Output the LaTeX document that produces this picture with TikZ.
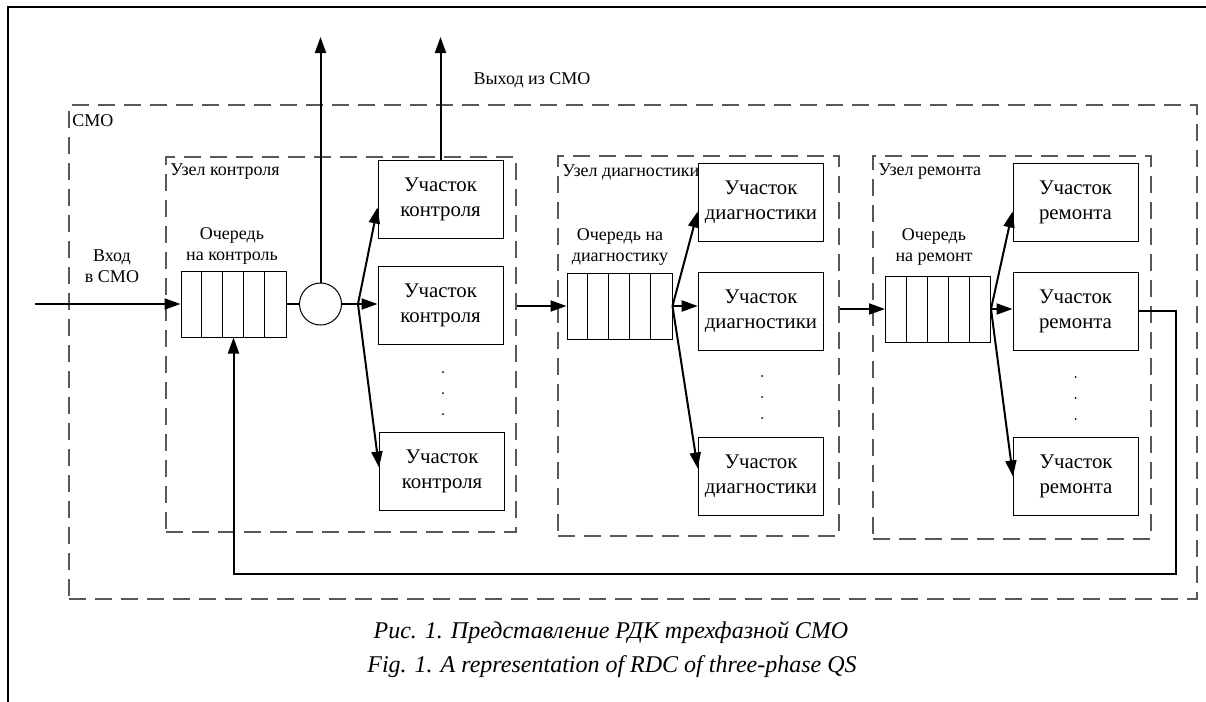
\documentclass[tikz,border=0pt]{standalone}
\usepackage{fontspec}
\setmainfont{Liberation Serif}
\usepackage{tikz}
\usetikzlibrary{arrows.meta}
\usetikzlibrary{positioning}
\usetikzlibrary{calc,fit}
\tikzstyle{flow} = [draw, line width=1pt, -{Triangle[length=8pt,width=5.5pt]}]
\tikzstyle{uch} = [draw, line width=0.5pt, minimum width=62.5pt,
minimum height=39pt, align=center, font=\fontsize{10.4}{12.5}\selectfont]

\begin{document}
\begin{tikzpicture}[x=0.5pt, y=-0.5pt,
knot/.style={draw=black!65, dash pattern=on 8.5pt off 4.5pt, line width=0.6pt, inner sep=0pt},
queue/.style={draw, line width=0.5pt, minimum width=52.5pt, minimum height=33pt, inner sep=0pt},
lbl/.style={inner sep=0pt, align=center, font=\fontsize{9}{10.5}\selectfont}]
\useasboundingbox (0,0) rectangle (1206,702);
%% Frame
\draw [line width=1pt] (1206,7) -- (8,7) -- (8,702);
%% Nodes of the system
\node [knot, fit={(69,105) (1197,599)}] (smo) {};
\node [knot, fit={(166,157) (516,532)}] (uk) {};
\node [knot, fit={(558,156) (839,536)}] (ud) {};
\node [knot, fit={(873,156) (1151,539)}] (ur) {};
\node [lbl, anchor=west] (smot) at (72,121) {СМО};
\node [lbl, anchor=west] (ukt) at (170,172) {Узел контроля};
\node [lbl, anchor=west] (udt) at (562,172) {Узел диагностики};
\node [lbl, anchor=west] (urt) at (878,172) {Узел ремонта};
%% Queues
\node [queue] (qk) at (233.5,304) {};
\node [queue] (qd) at (619.5,306) {};
\node [queue] (qr) at (938,309) {};
\foreach \q in {qk,qd,qr}
  \foreach \i in {1,...,4}
    \draw [line width=0.5pt] ([xshift=\i*10.5pt]\q.north west) -- ([xshift=\i*10.5pt]\q.south west);
\node [lbl] (qkt) at (232,246) {Очередь\\на контроль};
\node [lbl] (qdt) at (620,247) {Очередь на\\диагностику};
\node [lbl] (qrt) at (934,247) {Очередь\\на ремонт};
\node [draw, circle, line width=0.5pt, minimum size=21pt, inner sep=0pt] (srv) at (320.5,304) {};
%% Sections
\node [uch] (k1) at (440.5,199.5) {Участок\\контроля};
\node [uch] (k2) at (440.5,305.5) {Участок\\контроля};
\node [uch] (k3) at (442,471.5) {Участок\\контроля};
\node [uch] (d1) at (761,202.5) {Участок\\диагностики};
\node [uch] (d2) at (761,311) {Участок\\диагностики};
\node [uch] (d3) at (761,476.5) {Участок\\диагностики};
\node [uch] (r1) at (1075.5,202.5) {Участок\\ремонта};
\node [uch] (r2) at (1075.5,311) {Участок\\ремонта};
\node [uch] (r3) at (1076,476.5) {Участок\\ремонта};
\foreach \x/\y in {443/372, 762/376, 1075.5/377}
  \foreach \d in {0,21,42}
    \fill (\x,\y+\d) circle (0.5pt);
%% Input and output
\coordinate (in) at (35,304);
\coordinate (out1) at (320.5,37);
\coordinate (out2) at (440.5,37);
\coordinate (kf) at (358,304);
\coordinate (fb) at (1176,574);
\node [lbl] (int) at (112,266) {Вход\\в СМО};
\node [lbl] (outt) at (532,80) {Выход из СМО};
\path [flow] (in) -- (qk);
\path [flow] (srv) -- (out1);
\path [flow] (k1) -- (out2);
%% Control
\draw [line width=1pt] (qk.east) -- (srv.west);
\path [flow] (srv.east) -- (k2.west |- srv.east);
\path [flow] (kf) -- ([yshift=-4pt]k1.west);
\path [flow] (kf) -- ([yshift=2pt]k3.west);
\path [flow] (qd.west -| uk.east) -- (qd.west);
%% Diagnostics
\path [flow] (qd.east) -- ([yshift=-4.5pt]d1.west);
\path [flow] (qd.east) -- (qd.east -| d2.west);
\path [flow] (qd.east) -- ([yshift=4pt]d3.west);
\path [flow] (qr.west -| ud.east) -- (qr.west);
%% Repair
\path [flow] (qr.east) -- ([yshift=-4.5pt]r1.west);
\path [flow] (qr.east) -- (qr.east -| r2.west);
\path [flow] (qr.east) -- (r3.west);
%% Back to control
\path [flow] (r2.east) -| (fb) -| (qk.south);
%% Caption
\node [font=\fontsize{12}{14}\selectfont\itshape] (cap1) at (611,633) {Рис. 1. Представление РДК трехфазной СМО};
\node [font=\fontsize{12}{14}\selectfont\itshape] (cap2) at (612,667) {Fig. 1. A representation of RDC of three-phase QS};
\end{tikzpicture}
\end{document}
